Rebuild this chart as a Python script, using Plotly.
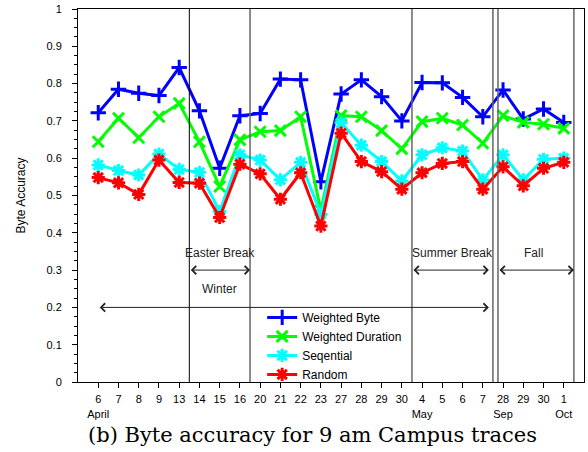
import plotly.graph_objects as go

days = ["6", "7", "8", "9", "13", "14", "15", "16", "20", "21", "22", "23",
        "27", "28", "29", "30", "4", "5", "6", "7", "28", "29", "30", "1"]
months = {0: "April", 16: "May", 20: "Sep", 23: "Oct"}

weighted_byte = [0.722, 0.785, 0.774, 0.768, 0.843, 0.727, 0.573, 0.714, 0.720, 0.812, 0.810, 0.537,
                 0.772, 0.810, 0.765, 0.700, 0.803, 0.802, 0.763, 0.711, 0.783, 0.705, 0.732, 0.696]
weighted_duration = [0.644, 0.707, 0.655, 0.711, 0.747, 0.644, 0.524, 0.649, 0.671, 0.674, 0.711, 0.460,
                     0.714, 0.711, 0.674, 0.625, 0.698, 0.707, 0.689, 0.640, 0.714, 0.696, 0.691, 0.680]
sequential = [0.582, 0.567, 0.555, 0.611, 0.570, 0.562, 0.457, 0.609, 0.595, 0.542, 0.589, 0.450,
              0.695, 0.635, 0.591, 0.539, 0.609, 0.628, 0.619, 0.542, 0.609, 0.542, 0.597, 0.600]
random_ = [0.548, 0.534, 0.503, 0.595, 0.535, 0.533, 0.441, 0.584, 0.558, 0.490, 0.561, 0.418,
           0.667, 0.591, 0.564, 0.517, 0.561, 0.586, 0.591, 0.517, 0.577, 0.526, 0.573, 0.589]

series = [
    ("Weighted Byte", weighted_byte, "#0000ff", "cross-thin"),
    ("Weighted Duration", weighted_duration, "#00ff00", "x-thin"),
    ("Seqential", sequential, "#00ffff", "asterisk"),
    ("Random", random_, "#ff0000", "asterisk"),
]

# period separators (between category positions)
separators = [5.5, 8.5, 16.5, 20.5, 20.75, 24.5]
# period arrows: (start, end, y)
periods = [(5.5, 8.5, 0.3), (16.5, 20.3, 0.3), (20.75, 24.5, 0.3), (1.0, 20.3, 0.2)]
period_labels = [("Easter Break", 7.0, 0.347), ("Winter", 7.0, 0.249),
                 ("Summer Break", 18.5, 0.347), ("Fall", 22.5, 0.347)]

xs = list(range(1, len(days) + 1))
ticktext = [d + ("<br>" + months[i] if i in months else "") for i, d in enumerate(days)]

FONT = "Liberation Sans, Arial, Helvetica, sans-serif"

fig = go.Figure()
for name, vals, color, sym in series:
    fig.add_trace(go.Scatter(
        x=xs, y=vals, name=name, mode="lines+markers",
        line=dict(color=color, width=3),
        marker=dict(symbol=sym, size=11, color=color, line=dict(color=color, width=3)),
    ))

shapes = []
for i, sx in enumerate(separators):
    shapes.append(dict(type="line", xref="x", yref="y", x0=sx, x1=sx, y0=0, y1=1,
                       line=dict(color="#000000" if i == 0 else "#666666", width=1 if i == 0 else 1.5)))

annotations = []
for x0, x1, yv in periods:
    annotations.append(dict(
        x=x1, y=yv, ax=x0, ay=yv, xref="x", yref="y", axref="x", ayref="y",
        text=" ", font=dict(size=1), showarrow=True, arrowside="end+start",
        arrowhead=4, startarrowhead=4, arrowsize=1.6, startarrowsize=1.6, arrowwidth=1,
        arrowcolor="#222222", standoff=0, startstandoff=0,
    ))
for txt, xv, yv in period_labels:
    annotations.append(dict(x=xv, y=yv, xref="x", yref="y", text=txt, showarrow=False,
                            font=dict(family=FONT, size=12, color="#222222")))
annotations.append(dict(
    x=0.464, y=-0.142, xref="paper", yref="paper", showarrow=False,
    text="(b) Byte accuracy for 9 am Campus traces", xanchor="center", yanchor="middle",
    font=dict(family="DejaVu Serif, Liberation Serif, serif", size=21, color="#000000"),
))

fig.update_layout(
    width=588, height=452,
    margin=dict(l=78, r=4, t=9, b=70),
    plot_bgcolor="white", paper_bgcolor="white",
    font=dict(family=FONT, size=11, color="#000000"),
    shapes=shapes, annotations=annotations,
    legend=dict(x=0.364, y=0.212, xanchor="left", yanchor="top",
                bgcolor="rgba(0,0,0,0)", font=dict(size=12), itemwidth=30,
                tracegroupgap=0),
    showlegend=True,
)
fig.update_xaxes(
    range=[0, 25], tickvals=xs, ticktext=ticktext, showgrid=False, zeroline=False,
    showline=True, linecolor="#000000", linewidth=1, mirror=True,
    ticks="outside", ticklen=5, tickcolor="#000000", ticklabelstandoff=2,
    tickfont=dict(size=11),
)
fig.update_yaxes(
    range=[0, 1], dtick=0.1, showgrid=False, zeroline=False,
    showline=True, linecolor="#000000", linewidth=1, mirror=True,
    ticks="outside", ticklen=5, tickcolor="#000000", ticklabelstandoff=8,
    minor=dict(dtick=0.025, ticks="outside", ticklen=3, tickcolor="#000000"),
    title=dict(text="Byte Accuracy", standoff=18, font=dict(size=12)),
    tickfont=dict(size=11),
)

fig.write_html("out.html")
